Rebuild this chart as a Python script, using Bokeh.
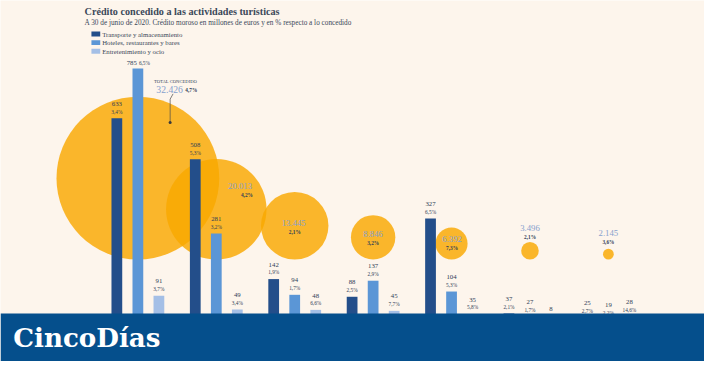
from bokeh.plotting import figure
from bokeh.models import Range1d
from bokeh.core.properties import value
from bokeh.embed import file_html
from bokeh.resources import INLINE

# ---------------- data ----------------
title = "Crédito concedido a las actividades turísticas"
subtitle = "A 30 de junio de 2020. Crédito moroso en millones de euros y en % respecto a lo concedido"
series_names = ["Transporte y almacenamiento", "Hoteles, restaurantes y bares", "Entretenimiento y ocio"]

transporte = [633, 508, 142, 88, 327, 37, 25]
transporte_pct = ["3,4%", "5,3%", "1,9%", "2,5%", "6,5%", "2,1%", "2,7%"]
hoteles = [785, 281, 94, 137, 104, 27, 19]
hoteles_pct = ["6,5%", "3,2%", "1,7%", "2,9%", "5,3%", "1,7%", "2,2%"]
ocio = [91, 49, 48, 45, 35, 8, 28]
ocio_pct = ["3,7%", "3,4%", "6,6%", "7,7%", "5,8%", "", "14,6%"]

total_concedido = [32426, 20013, 13445, 8846, 6392, 3496, 2145]
total_pct = ["4,7%", "4,2%", "2,1%", "3,2%", "7,3%", "2,1%", "3,6%"]
total_label = "TOTAL CONCEDIDO"
brand = "CincoDías"

# ---------------- layout (designed on a 720x377 canvas, scaled to fit) ----------------
REF_W, REF_H = 720, 377
W, H = 704, 361
SX, SY = W / REF_W, H / REF_H
FS = (SX + SY) / 2
GX = 80.2          # px per group
G0 = 140.5         # x of first group centre
K = 0.342          # px per million euros (bars)
BASE = 339.5       # y of zero
R_MAX = 85.0       # px radius of the largest circle
CIRCLE_BOTTOM = 270.5
BAR_OFF = 21.5
BAR_W = 11

X0 = -G0 / GX
X1 = (REF_W - G0) / GX
Y0 = (BASE - REF_H) / K
Y1 = BASE / K


def px2x(px):
    return (px - G0) / GX


def px2y(py):
    return (BASE - py) / K


def fs(px):
    return value(f"{px * FS:.2f}px")


BG = "#fdf5ec"
DARK = "#2f3d56"
TITLE_C = "#3b4859"
COLORS = ["#234e8a", "#5b96d6", "#a4bfe6"]
CIRCLE_C = "#f9a800"
LIGHT_NUM = "#86a0cc"
BANNER = "#054f8c"
FONT = value("Liberation Serif")

p = figure(width=W, height=H, x_range=Range1d(X0, X1), y_range=Range1d(Y0, Y1),
           x_axis_type=None, y_axis_type=None, output_backend="svg",
           toolbar_location=None, min_border=0, background_fill_color=BG,
           border_fill_color=BG, outline_line_color=None)
p.grid.visible = False

n = len(total_concedido)
idx = list(range(n))

# circles (radius proportional to credit granted), bottom aligned
radii = [v / max(total_concedido) * R_MAX for v in total_concedido]
cy = [px2y(CIRCLE_BOTTOM) + r / K for r in radii]
p.circle(x=idx, y=cy, radius=[r * SY for r in radii], radius_units="screen",
         fill_color=CIRCLE_C, fill_alpha=0.82, line_color=None)

# bars
series = [(transporte, transporte_pct), (hoteles, hoteles_pct), (ocio, ocio_pct)]
offsets = [-BAR_OFF / GX, 0, BAR_OFF / GX]
for (vals, pcts), off, col in zip(series, offsets, COLORS):
    xs = [i + off for i in idx]
    p.vbar(x=xs, top=vals, bottom=0, width=BAR_W / GX, fill_color=col, line_color=None)
    normal = [k for k in idx if BASE - vals[k] * K - 15 >= 70]
    inline = [k for k in idx if k not in normal]
    p.text(x=[xs[k] for k in normal], y=[vals[k] for k in normal],
           text=[str(vals[k]) for k in normal], y_offset=-15 * SY,
           text_align="center", text_baseline="middle", text_font=FONT,
           text_font_size=fs(7), text_color=DARK)
    p.text(x=[xs[k] for k in normal], y=[vals[k] for k in normal],
           text=[pcts[k] for k in normal], y_offset=-7 * SY,
           text_align="center", text_baseline="middle", text_font=FONT,
           text_font_size=fs(5.5), text_color=DARK)
    if inline:
        p.text(x=[xs[k] for k in inline], y=[vals[k] for k in inline],
               text=[str(vals[k]) for k in inline], x_offset=-1, y_offset=-6 * SY,
               text_align="right", text_baseline="middle", text_font=FONT,
               text_font_size=fs(7), text_color=DARK)
        p.text(x=[xs[k] for k in inline], y=[vals[k] for k in inline],
               text=[pcts[k] for k in inline], x_offset=1, y_offset=-6 * SY,
               text_align="left", text_baseline="middle", text_font=FONT,
               text_font_size=fs(5.5), text_color=DARK)

# circle labels: (dx value, dy value, align value, dx pct, dy pct, align pct) in px
LABEL_POS = [(32.5, -92.5, "center", 48.5, -92.0, "left"),
             (24.3, -24.6, "center", 31.3, -14.6, "center"),
             (-1.0, -3.3, "center", 0.0, 6.0, "center"),
             (0.0, -3.3, "center", 0.0, 5.7, "center"),
             (0.5, -4.7, "center", 0.5, 4.3, "center"),
             (0.0, -23.3, "center", 0.0, -14.3, "center"),
             (0.0, -21.9, "center", 0.0, -12.9, "center")]
for i, (dxv, dyv, av, dxp, dyp, ap) in enumerate(LABEL_POS):
    num = f"{total_concedido[i]:,}".replace(",", ".")
    p.text(x=[i], y=[cy[i]], text=[num], x_offset=dxv * SX, y_offset=dyv * SY,
           text_align=av, text_baseline="middle", text_font=FONT,
           text_font_size=fs(10 if i == 0 else 9), text_color=LIGHT_NUM)
    p.text(x=[i], y=[cy[i]], text=[total_pct[i]], x_offset=dxp * SX, y_offset=dyp * SY,
           text_align=ap, text_baseline="middle", text_font=FONT,
           text_font_size=fs(5.5), text_font_style="bold", text_color=DARK)

# "TOTAL CONCEDIDO" callout
p.text(x=[0], y=[cy[0]], text=[total_label], x_offset=38.5 * SX, y_offset=-100.5 * SY,
       text_align="center", text_baseline="middle", text_font=FONT,
       text_font_size=fs(4.8), text_color=DARK)
p.line(x=[px2x(176.5), px2x(173.5), px2x(173.5)], y=[px2y(97.5), px2y(103), px2y(127)],
       line_color="#4a4a4a", line_width=0.7)
p.scatter(x=[px2x(173.5)], y=[px2y(127.5)], size=3, marker="circle",
          fill_color="#3a3a3a", line_color=None)

# title block
p.text(x=[px2x(86)], y=[px2y(11)], text=[title], text_align="left", text_baseline="middle",
       text_font=FONT, text_font_size=fs(10.5), text_font_style="bold", text_color=TITLE_C)
p.text(x=[px2x(86)], y=[px2y(23)], text=[subtitle], text_align="left", text_baseline="middle",
       text_font=FONT, text_font_size=fs(7.5), text_color=TITLE_C)

# legend
leg_y = [35, 44, 53]
p.rect(x=[px2x(97.5)] * 3, y=[px2y(v) for v in leg_y], width=9 * SX, height=5 * SY,
       width_units="screen", height_units="screen", fill_color=COLORS, line_color=None)
p.text(x=[px2x(104)] * 3, y=[px2y(v) for v in leg_y], text=series_names,
       text_align="left", text_baseline="middle", text_font=FONT,
       text_font_size=fs(7), text_color=TITLE_C)

# bottom banner
p.quad(left=[X0], right=[X1], top=[px2y(327)], bottom=[Y0], fill_color=BANNER, line_color=None)
p.text(x=[px2x(13)], y=[px2y(352)], text=[brand], text_align="left", text_baseline="middle",
       text_font=value("DejaVu Serif"), text_font_size=fs(27), text_font_style="bold",
       text_color="white")

open("out.html", "w").write(file_html(p, INLINE, "Crédito concedido a las actividades turísticas"))
